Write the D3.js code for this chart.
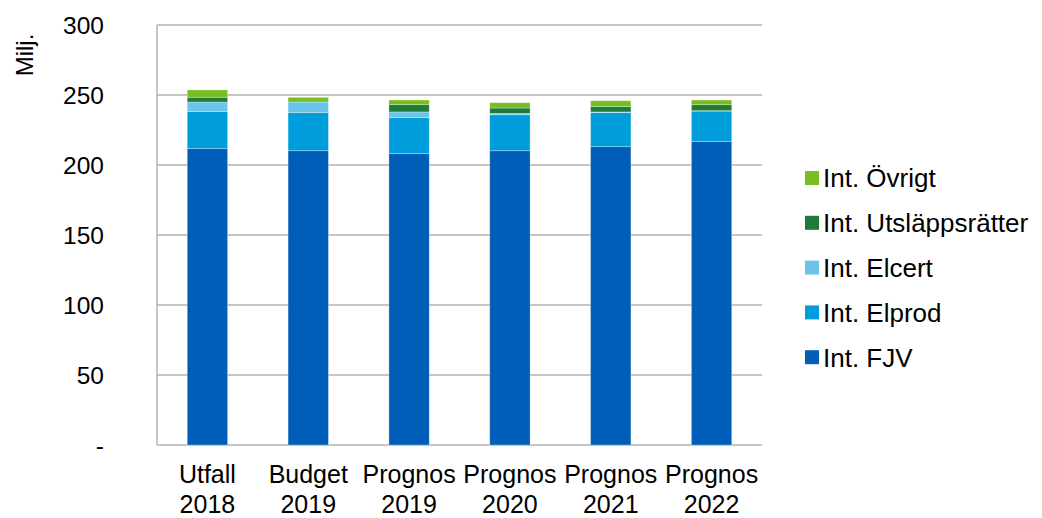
<!DOCTYPE html>
<html>
<head>
<meta charset="utf-8">
<script src="https://cdn.jsdelivr.net/npm/d3@7"></script>
<style>
  body { margin: 0; background: #fff; }
  text { font-family: "Liberation Sans", Arial, sans-serif; fill: #000; }
</style>
</head>
<body>
<script>
// data
const categories = ["Utfall 2018", "Budget 2019", "Prognos 2019", "Prognos 2020", "Prognos 2021", "Prognos 2022"];
const seriesNames = ["Int. FJV", "Int. Elprod", "Int. Elcert", "Int. Utsläppsrätter", "Int. Övrigt"];
const fjv = [211.7, 210.2, 208.3, 210.2, 213.1, 216.9];
const elprod = [26.4, 27.2, 25.5, 25.7, 24.3, 21.6];
const elcert = [6.9, 7.6, 4.1, 1.0, 0.5, 0.3];
const utslapp = [3.4, 0, 5.2, 3.8, 3.8, 4.3];
const ovrigt = [5.2, 3.3, 3.3, 3.8, 4.2, 3.3];
const yTicks = [0, 50, 100, 150, 200, 250, 300];
const colors = ["#005EB8", "#009DDC", "#6CC4EA", "#1E7B3A", "#78BE20"];

const seriesVals = [fjv, elprod, elcert, utslapp, ovrigt];
const rows = categories.map((c, i) => {
  const r = { cat: c };
  seriesNames.forEach((s, j) => r[s] = seriesVals[j][i]);
  return r;
});

const W = 1042, H = 518;
const m = { left: 157, right: 280, top: 25, bottom: 73 };

const svg = d3.select("body").append("svg").attr("width", W).attr("height", H);

const x = d3.scaleBand().domain(categories).range([m.left, W - m.right]).paddingInner(0.6).paddingOuter(0.3);
const y = d3.scaleLinear().domain([0, 300]).range([H - m.bottom, m.top]);

// grid
svg.append("g").selectAll("line").data(yTicks).enter().append("line")
  .attr("x1", m.left).attr("x2", W - m.right)
  .attr("y1", d => y(d)).attr("y2", d => y(d))
  .attr("stroke", "#b3b3b3").attr("stroke-width", 1.5);

svg.append("line")
  .attr("x1", m.left).attr("x2", m.left)
  .attr("y1", y(300)).attr("y2", y(0))
  .attr("stroke", "#b3b3b3").attr("stroke-width", 1.5);

// y labels
svg.append("g").selectAll("text").data(yTicks).enter().append("text")
  .attr("x", 104).attr("y", d => y(d)).attr("dy", "0.36em")
  .attr("text-anchor", "end").style("font-size", "24.5px")
  .text(d => d === 0 ? "-" : d);

svg.append("text")
  .attr("transform", "translate(33,55) rotate(-90)")
  .attr("text-anchor", "middle").style("font-size", "24px")
  .text("Milj.");

// bars
const stack = d3.stack().keys(seriesNames)(rows);
svg.append("g").selectAll("g").data(stack).enter().append("g")
  .attr("fill", (d, i) => colors[i])
  .selectAll("rect").data(d => d).enter().append("rect")
  .attr("x", d => x(d.data.cat))
  .attr("width", x.bandwidth())
  .attr("y", d => y(d[1]))
  .attr("height", d => y(d[0]) - y(d[1]))
  .attr("stroke", "rgba(255,255,255,0.35)").attr("stroke-width", 0.8);

// x labels
const xl = svg.append("g").selectAll("text").data(categories).enter().append("text")
  .attr("x", d => x(d) + x.bandwidth() / 2)
  .attr("text-anchor", "middle").style("font-size", "25px");
xl.append("tspan").attr("x", d => x(d) + x.bandwidth() / 2).attr("y", 483).text(d => d.split(" ")[0]);
xl.append("tspan").attr("x", d => x(d) + x.bandwidth() / 2).attr("y", 513).text(d => d.split(" ")[1]);

// legend (top to bottom reversed)
const legendItems = seriesNames.map((s, i) => ({ name: s, color: colors[i] })).reverse();
const lg = svg.append("g").selectAll("g").data(legendItems).enter().append("g")
  .attr("transform", (d, i) => `translate(805,${178 + i * 44.8})`);
lg.append("rect").attr("x", 0).attr("y", -7).attr("width", 14).attr("height", 14).attr("fill", d => d.color);
lg.append("text").attr("x", 18).attr("dy", "0.36em").style("font-size", "26px").text(d => d.name);
</script>
</body>
</html>
